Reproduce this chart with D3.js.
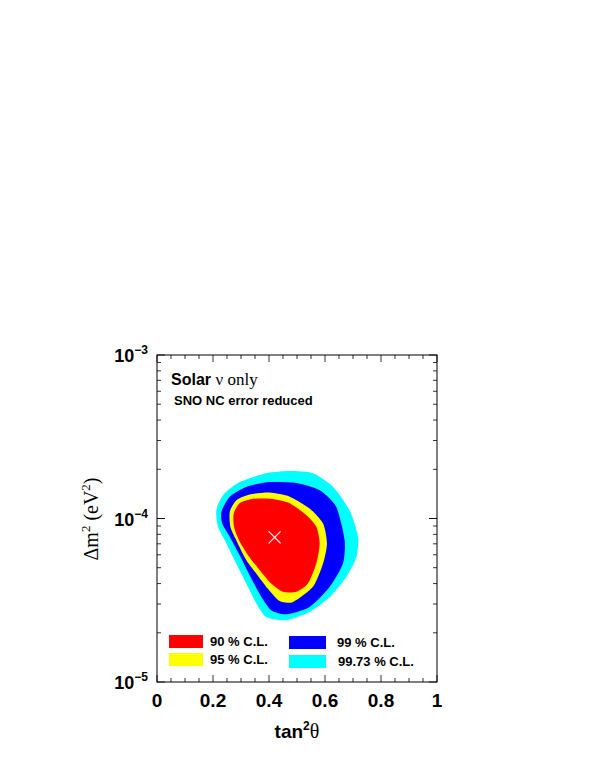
<!DOCTYPE html>
<html><head><meta charset="utf-8">
<script src="https://cdn.jsdelivr.net/npm/d3@7"></script>
<style>body{margin:0;background:#fff}</style></head>
<body><svg id="c" width="595" height="770"></svg>
<script>
const xTicks=[0,0.2,0.4,0.6,0.8,1];
const yDecades=[1e-5,1e-4,1e-3];
const cl997=[[0.212,1.12e-4],[0.236,1.39e-4],[0.295,1.67e-4],[0.390,1.89e-4],[0.474,1.95e-4],[0.557,1.89e-4],[0.629,1.56e-4],[0.688,1.12e-4],[0.718,7.73e-5],[0.712,5.82e-5],[0.676,4.39e-5],[0.617,3.31e-5],[0.545,2.68e-5],[0.462,2.39e-5],[0.390,2.50e-5],[0.355,3.02e-5],[0.319,4.00e-5],[0.283,5.30e-5],[0.248,7.03e-5],[0.218,8.89e-5]];
const cl99=[[0.230,1.10e-4],[0.260,1.36e-4],[0.319,1.56e-4],[0.402,1.67e-4],[0.498,1.65e-4],[0.581,1.49e-4],[0.640,1.18e-4],[0.670,7.36e-5],[0.664,5.30e-5],[0.617,3.82e-5],[0.545,2.88e-5],[0.462,2.60e-5],[0.408,2.75e-5],[0.373,3.31e-5],[0.337,4.29e-5],[0.301,5.69e-5],[0.260,7.73e-5],[0.233,9.31e-5]];
const cl95=[[0.260,1.10e-4],[0.283,1.29e-4],[0.331,1.40e-4],[0.402,1.44e-4],[0.474,1.36e-4],[0.545,1.15e-4],[0.593,9.31e-5],[0.607,7.03e-5],[0.593,5.30e-5],[0.557,3.82e-5],[0.486,3.09e-5],[0.438,3.13e-5],[0.396,3.72e-5],[0.355,4.60e-5],[0.319,5.56e-5],[0.283,7.36e-5],[0.262,8.89e-5]];
const cl90=[[0.274,1.07e-4],[0.295,1.24e-4],[0.343,1.32e-4],[0.408,1.32e-4],[0.474,1.24e-4],[0.533,1.05e-4],[0.569,8.89e-5],[0.581,7.03e-5],[0.569,5.30e-5],[0.539,4.00e-5],[0.498,3.56e-5],[0.450,3.56e-5],[0.408,4.00e-5],[0.367,4.83e-5],[0.325,5.97e-5],[0.293,7.36e-5],[0.275,8.89e-5]];
const bestFit=[0.420,7.66e-5];
const legendLabels=["90 % C.L.","95 % C.L.","99 % C.L.","99.73 % C.L."];
const colors=["#ff0000","#ffff00","#0000ff","#00ffff"];

const svg=d3.select("#c");
const L=157,R=437,T=355,B=682;
const x=d3.scaleLinear().domain([0,1]).range([L,R]);
const y=d3.scaleLog().domain([1e-5,1e-3]).range([B,T]);
const line=d3.line().x(d=>x(d[0])).y(d=>y(d[1])).curve(d3.curveCardinalClosed.tension(0.3));
[[cl997,colors[3]],[cl99,colors[2]],[cl95,colors[1]],[cl90,colors[0]]].forEach(([d,c])=>{
  svg.append("path").attr("d",line(d)).attr("fill",c);
});
// best fit
const bx=x(bestFit[0]),by=y(bestFit[1]);
svg.append("path").attr("d",`M${bx-6},${by-6}L${bx+6},${by+6}M${bx-6},${by+6}L${bx+6},${by-6}`).attr("stroke","#fff").attr("stroke-width",1.2);
// frame
svg.append("rect").attr("x",L).attr("y",T).attr("width",R-L).attr("height",B-T).attr("fill","none").attr("stroke","#000").attr("stroke-width",1);
// ticks
const g=svg.append("g").attr("stroke","#000").attr("stroke-width",0.8);
d3.range(0,1.0001,0.05).forEach(v=>{
  const len=(Math.round(v*100)%20===0)?7:4;
  g.append("line").attr("x1",x(v)).attr("x2",x(v)).attr("y1",B).attr("y2",B-len);
  g.append("line").attr("x1",x(v)).attr("x2",x(v)).attr("y1",T).attr("y2",T+len);
});
[1e-5,1e-4].forEach(d=>{for(let k=1;k<=10;k++){const v=d*k;const len=(k===1||k===10)?8:4;
  g.append("line").attr("x1",L).attr("x2",L+len).attr("y1",y(v)).attr("y2",y(v));
  g.append("line").attr("x1",R).attr("x2",R-len).attr("y1",y(v)).attr("y2",y(v));}});
// x tick labels
svg.selectAll(".xt").data(xTicks).enter().append("text").attr("x",d=>x(d)).attr("y",707)
 .attr("text-anchor","middle").attr("font-family","Liberation Sans, Arial").attr("font-weight","bold").attr("font-size",19).text(d=>d3.format("")(d));
// y tick labels
yDecades.forEach(d=>{
  const t=svg.append("text").attr("x",148).attr("y",y(d)+7).attr("text-anchor","end").attr("font-family","Liberation Sans, Arial").attr("font-weight","bold").attr("font-size",18);
  t.append("tspan").text("10");
  t.append("tspan").attr("dy",-8).attr("font-size",12).text("\u2212"+Math.round(-Math.log10(d)));
});
// axis titles
const xt=svg.append("text").attr("x",297).attr("y",738).attr("text-anchor","middle").attr("font-family","Liberation Sans, Arial").attr("font-weight","bold").attr("font-size",19);
xt.append("tspan").text("tan");xt.append("tspan").attr("dy",-8).attr("font-size",12).text("2");xt.append("tspan").attr("dy",8).attr("font-family","Liberation Serif, Times").attr("font-weight","normal").attr("font-size",20).text("\u03b8");
const yt=svg.append("text").attr("transform","translate(98,519) rotate(-90)").attr("text-anchor","middle").attr("font-family","Liberation Serif, Times").attr("font-size",20);
yt.append("tspan").text("\u0394m");yt.append("tspan").attr("dy",-8).attr("font-size",13).text("2");yt.append("tspan").attr("dy",8).text(" (eV");yt.append("tspan").attr("dy",-8).attr("font-size",13).text("2");yt.append("tspan").attr("dy",8).text(")");
// annotations
const s=svg.append("text").attr("x",171).attr("y",385);
s.append("tspan").attr("font-family","Liberation Sans, Arial").attr("font-weight","bold").attr("font-size",16).text("Solar ");
s.append("tspan").attr("font-family","Liberation Serif, Times").attr("font-size",17).text("\u03bd only");
svg.append("text").attr("x",174).attr("y",405).attr("font-family","Liberation Sans, Arial").attr("font-weight","bold").attr("font-size",13).text("SNO NC error reduced");
// legend
const leg=[[169,635,210],[169,653,210],[289,636,337],[289,655,338]];
legendLabels.forEach((lab,i)=>{
  const [bxx,byy,tx]=leg[i];
  svg.append("rect").attr("x",bxx).attr("y",byy).attr("width",i<2?34:37).attr("height",13).attr("fill",colors[i]);
  svg.append("text").attr("x",tx).attr("y",byy+11).attr("font-family","Liberation Sans, Arial").attr("font-weight","bold").attr("font-size",13).text(lab);
});
</script></body></html>
